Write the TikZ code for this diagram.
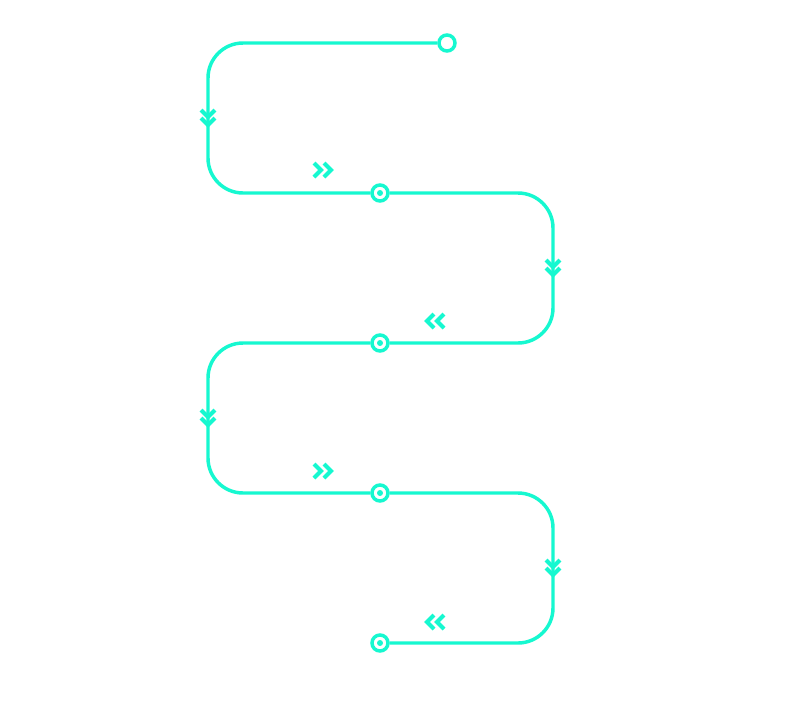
\documentclass[tikz,border=0pt]{standalone}
\definecolor{aqua}{RGB}{22,248,208}
\tikzset{every picture/.style={line width=0.75pt}}
\tikzset{
  track/.style={color=aqua, line width=2.6, rounded corners=26.25pt},
  stop/.style={circle, draw=aqua, line width=2.6, fill=white, minimum size=12pt, inner sep=0pt},
  chev/.style={color=aqua, line width=3, miter limit=4}
}
\begin{document}
\begin{tikzpicture}[x=0.75pt,y=0.75pt,yscale=-1,xscale=1]
\useasboundingbox (0,0) rectangle (800,701);

% Stops
\node [stop] (start) at (447,43) {};
\node [stop] (s1) at (380,193) {};
\node [stop] (s2) at (380,343) {};
\node [stop] (s3) at (380,493) {};
\node [stop] (s4) at (380,643) {};

% Track
\draw [track] (start.west) -- (208,43) -- (208,193) -- (s1.west);
\draw [track] (s1.east) -- (553,193) -- (553,343) -- (s2.east);
\draw [track] (s2.west) -- (208,343) -- (208,493) -- (s3.west);
\draw [track] (s3.east) -- (553,493) -- (553,643) -- (s4.east);

% Dots
\foreach \n in {s1,s2,s3,s4}
  \fill [aqua] (\n) circle (3);

% Down chevrons
\foreach \x/\y in {208/110,553/260,208/410,553/560}{
  \draw [chev] (\x-7,\y) -- (\x,\y+7) -- (\x+7,\y);
  \draw [chev] (\x-7,\y+8) -- (\x,\y+15) -- (\x+7,\y+8);
}

% Right chevrons
\foreach \y in {170,471}{
  \draw [chev] (314,\y-7) -- (321,\y) -- (314,\y+7);
  \draw [chev] (324,\y-7) -- (331,\y) -- (324,\y+7);
}

% Left chevrons
\foreach \y in {321,622}{
  \draw [chev] (434,\y-7) -- (427,\y) -- (434,\y+7);
  \draw [chev] (444,\y-7) -- (437,\y) -- (444,\y+7);
}

\end{tikzpicture}
\end{document}
